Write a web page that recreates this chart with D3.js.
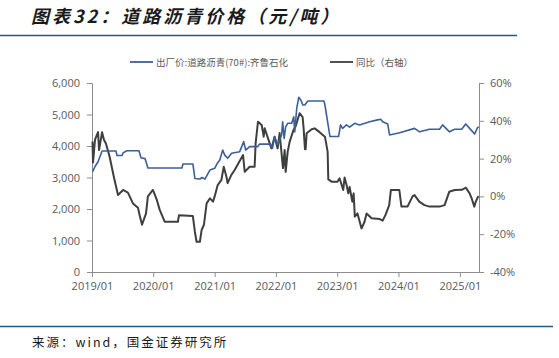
<!DOCTYPE html>
<html>
<head>
<meta charset="utf-8">
<script src="https://cdn.jsdelivr.net/npm/d3@7"></script>
<style>
  body { margin: 0; background: #fff; }
  svg { display: block; }
  .axis-text { font-family: "Open Sans", "Noto Sans", sans-serif; font-size: 11px; fill: #595959; }
  .axis-path { stroke: #8c8c8c; }
  .legend-text { font-family: "Noto Sans CJK SC", sans-serif; font-size: 9.5px; fill: #595959; }
</style>
</head>
<body>
<div id="chart"></div>
<script>
// 出厂价:道路沥青(70#):齐鲁石化 (元/吨)
const priceDates = ['2019-01-04', '2019-01-19', '2019-02-06', '2019-03-02', '2019-05-24', '2019-05-30', '2019-06-29',
  '2019-07-05', '2019-07-28', '2019-10-08', '2019-10-20', '2019-11-13', '2019-11-30', '2020-06-20', '2020-06-26',
  '2020-08-24', '2020-09-05', '2020-10-05', '2020-10-17', '2020-11-04', '2020-12-04', '2021-01-01', '2021-01-19',
  '2021-01-31', '2021-02-18', '2021-03-02', '2021-03-19', '2021-04-12', '2021-05-30', '2021-06-23', '2021-07-05',
  '2021-07-28', '2021-09-14', '2021-09-26', '2021-11-25', '2021-12-12', '2021-12-24', '2022-01-11', '2022-01-23',
  '2022-02-04', '2022-02-10', '2022-02-19', '2022-02-28', '2022-03-12', '2022-04-05', '2022-04-17', '2022-04-23',
  '2022-05-05', '2022-05-17', '2022-05-29', '2022-06-10', '2022-06-22', '2022-07-10', '2022-10-14', '2022-10-20',
  '2022-11-19', '2023-01-09', '2023-01-21', '2023-02-02', '2023-02-26', '2023-03-16', '2023-04-15', '2023-05-14',
  '2023-07-13', '2023-08-30', '2023-09-17', '2023-09-29', '2023-10-29', '2023-11-09', '2024-01-08', '2024-04-06',
  '2024-05-06', '2024-07-04', '2024-09-02', '2024-09-20', '2024-10-31', '2024-12-01', '2025-01-12', '2025-02-05',
  '2025-02-28', '2025-03-30', '2025-04-17', '2025-04-24'];
const priceValues = [3180, 3350, 3500, 3840, 3840, 3700, 3700,
  3780, 3850, 3850, 3630, 3600, 3300, 3300, 3430,
  3430, 2970, 2950, 3000, 2950, 3240, 3290, 3470,
  3550, 3870, 3710, 3610, 3770, 3820, 4140, 3870,
  3980, 3980, 4060, 4060, 3930, 4300, 4030, 4190,
  4350, 4770, 4240, 4610, 4720, 4720, 4930, 4450,
  5200, 5545, 5460, 5300, 5300, 5430, 5430, 5300,
  4300, 4300, 4670, 4560, 4670, 4600, 4720, 4670,
  4770, 4830, 4850, 4770, 4700, 4350, 4420, 4560,
  4450, 4530, 4530, 4670, 4450, 4530, 4530, 4700,
  4560, 4380, 4590, 4600];

// 同比 (右轴, %)
const yoyDates = ['2019-01-04', '2019-01-07', '2019-01-19', '2019-02-06', '2019-02-12', '2019-03-02', '2019-03-13',
  '2019-03-25', '2019-04-16', '2019-05-12', '2019-06-05', '2019-07-05', '2019-08-03', '2019-09-02', '2019-10-02',
  '2019-10-12', '2019-10-26', '2019-11-19', '2019-11-30', '2019-12-30', '2020-01-23', '2020-02-08', '2020-03-09',
  '2020-05-27', '2020-06-02', '2020-08-24', '2020-09-05', '2020-09-15', '2020-10-05', '2020-10-15', '2020-10-29',
  '2020-11-14', '2020-12-04', '2020-12-22', '2021-01-01', '2021-01-19', '2021-02-10', '2021-02-24', '2021-03-12',
  '2021-03-19', '2021-04-10', '2021-04-30', '2021-06-19', '2021-06-29', '2021-07-28', '2021-08-27', '2021-09-02',
  '2021-09-16', '2021-10-08', '2021-10-20', '2021-10-26', '2021-12-05', '2021-12-24', '2022-01-11', '2022-01-23',
  '2022-02-12', '2022-02-22', '2022-02-28', '2022-03-12', '2022-03-24', '2022-04-15', '2022-04-28', '2022-05-22',
  '2022-06-09', '2022-06-15', '2022-06-23', '2022-06-27', '2022-07-03', '2022-08-02', '2022-08-20', '2022-09-18',
  '2022-10-20', '2022-11-05', '2022-11-09', '2022-11-29', '2023-01-03', '2023-01-15', '2023-02-06', '2023-02-14',
  '2023-02-26', '2023-03-08', '2023-03-16', '2023-04-01', '2023-04-09', '2023-04-16', '2023-05-02', '2023-05-26',
  '2023-06-13', '2023-06-25', '2023-07-25', '2023-09-11', '2023-09-29', '2023-10-16', '2023-11-07', '2023-11-17',
  '2024-01-06', '2024-01-19', '2024-02-24', '2024-03-25', '2024-04-06', '2024-05-04', '2024-06-04', '2024-07-04',
  '2024-09-02', '2024-10-02', '2024-10-30', '2024-12-01', '2025-01-12', '2025-02-06', '2025-02-28', '2025-03-12',
  '2025-03-28', '2025-04-05', '2025-04-17', '2025-04-24'];
const yoyValues = [29, 18, 30, 34, 24.5, 34, 30,
  28, 21, 10, 0.7, 3.4, 2, -3.7, -6,
  -10, -15, -9, 0, 3.4, -2, -7, -13.4,
  -13.4, -10, -10.4, -18.7, -24, -24, -17.8, -15,
  -3.7, -1, -2.8, 0, 6, 8.7, 15.7, 10.4,
  7, 11.3, 14, 21.9, 13, 15.7, 15.7, 28,
  39.5, 37.8, 31.6, 36, 25.4, 31.6, 25.4, 33.5,
  15, 24.5, 13, 23.7, 29, 35, 37, 44,
  42, 36, 25, 25, 33.4, 35.5, 36, 34,
  31.6, 23.7, 9, 7.8, 7.8, 9.6, 3.4, 10,
  6, 1.6, 5, -2.8, 1.6, -10.7, -9, -17,
  -13.4, -9, -11.6, -12, -12.8, -9.8, -4.6, 3.4,
  3.4, -5.4, -5.4, 0, 0.7, -2.8, -4.6, -5.4,
  -5.4, -4.6, 2.5, 3.4, 3.5, 4.6, 1.6, -1,
  -5.4, -3, -0.5, 0];

const leftTicks = [0, 1000, 2000, 3000, 4000, 5000, 6000];
const rightTicks = [-40, -20, 0, 20, 40, 60];
const xTickYears = ['2019-01-01', '2020-01-01', '2021-01-01', '2022-01-01', '2023-01-01', '2024-01-01', '2025-01-01'];
const seriesNames = ['出厂价:道路沥青(70#):齐鲁石化', '同比（右轴）'];
const seriesColors = ['#3c5f96', '#3f3f3f'];

const width = 559, height = 358;
const margin = {top: 83, right: 80, bottom: 86, left: 92};
const parse = d3.timeParse('%Y-%m-%d');

const svg = d3.select('#chart').append('svg')
  .attr('width', width)
  .attr('height', height);

// title and frame lines
svg.append('text')
  .attr('x', 31)
  .attr('y', 23)
  .attr('font-family', '"Noto Sans CJK SC", sans-serif')
  .attr('font-size', 18)
  .attr('font-weight', 'bold')
  .attr('font-style', 'italic')
  .attr('letter-spacing', 3)
  .attr('fill', '#1a1a1a')
  .text('图表32：道路沥青价格（元/吨）');

svg.append('line')
  .attr('x1', 0).attr('x2', 517)
  .attr('y1', 35.5).attr('y2', 35.5)
  .attr('stroke', '#1f5a85')
  .attr('stroke-width', 1.5);

svg.append('line')
  .attr('x1', 0).attr('x2', 553)
  .attr('y1', 326.5).attr('y2', 326.5)
  .attr('stroke', '#1f5a85')
  .attr('stroke-width', 1.5);

svg.append('text')
  .attr('x', 32)
  .attr('y', 347)
  .attr('font-family', '"Noto Sans CJK SC", sans-serif')
  .attr('font-size', 12.5)
  .attr('letter-spacing', 2)
  .attr('fill', '#1a1a1a')
  .text('来源：wind，国金证券研究所');

// scales
const x = d3.scaleTime()
  .domain([parse('2019-01-01'), parse('2025-04-25')])
  .range([margin.left, width - margin.right]);
const yLeft = d3.scaleLinear()
  .domain([0, 6000])
  .range([height - margin.bottom, margin.top]);
const yRight = d3.scaleLinear()
  .domain([-40, 60])
  .range([height - margin.bottom, margin.top]);

// axes
const axisL = svg.append('g')
  .attr('transform', 'translate(' + margin.left + ',0)')
  .call(d3.axisLeft(yLeft).tickValues(leftTicks).tickFormat(d3.format(',')).tickSize(5).tickSizeOuter(0).tickPadding(7));

const axisR = svg.append('g')
  .attr('transform', 'translate(' + (width - margin.right) + ',0)')
  .call(d3.axisRight(yRight).tickValues(rightTicks).tickFormat(d => d + '%').tickSize(5).tickSizeOuter(0).tickPadding(6));

const axisX = svg.append('g')
  .attr('transform', 'translate(0,' + (height - margin.bottom) + ')')
  .call(d3.axisBottom(x).tickValues(xTickYears.map(parse)).tickFormat(d3.timeFormat('%Y/%m')).tickSize(5).tickSizeOuter(0).tickPadding(5));

[axisL, axisR, axisX].forEach(a => {
  a.select('path').attr('class', 'axis-path');
  a.selectAll('g.tick line').attr('class', 'axis-path');
  a.selectAll('g.tick text').attr('class', 'axis-text');
});

// lines
const priceData = priceDates.map((d, i) => ({date: parse(d), value: priceValues[i]}));
const yoyData = yoyDates.map((d, i) => ({date: parse(d), value: yoyValues[i]}));

const priceLine = d3.line()
  .x(d => x(d.date))
  .y(d => yLeft(d.value));
const yoyLine = d3.line()
  .x(d => x(d.date))
  .y(d => yRight(d.value));

svg.append('path')
  .datum(yoyData)
  .attr('d', yoyLine)
  .attr('fill', 'none')
  .attr('stroke', seriesColors[1])
  .attr('stroke-width', 2)
  .attr('stroke-linejoin', 'round');

svg.append('path')
  .datum(priceData)
  .attr('d', priceLine)
  .attr('fill', 'none')
  .attr('stroke', seriesColors[0])
  .attr('stroke-width', 1.6)
  .attr('stroke-linejoin', 'round');

// legend
const legendX = [130, 330];
seriesNames.forEach((name, i) => {
  svg.append('line')
    .attr('x1', legendX[i]).attr('x2', legendX[i] + 23)
    .attr('y1', 62).attr('y2', 62)
    .attr('stroke', seriesColors[i])
    .attr('stroke-width', 1.8);
  svg.append('text')
    .attr('class', 'legend-text')
    .attr('x', legendX[i] + 26)
    .attr('y', 65.5)
    .text(name);
});
</script>
</body>
</html>
